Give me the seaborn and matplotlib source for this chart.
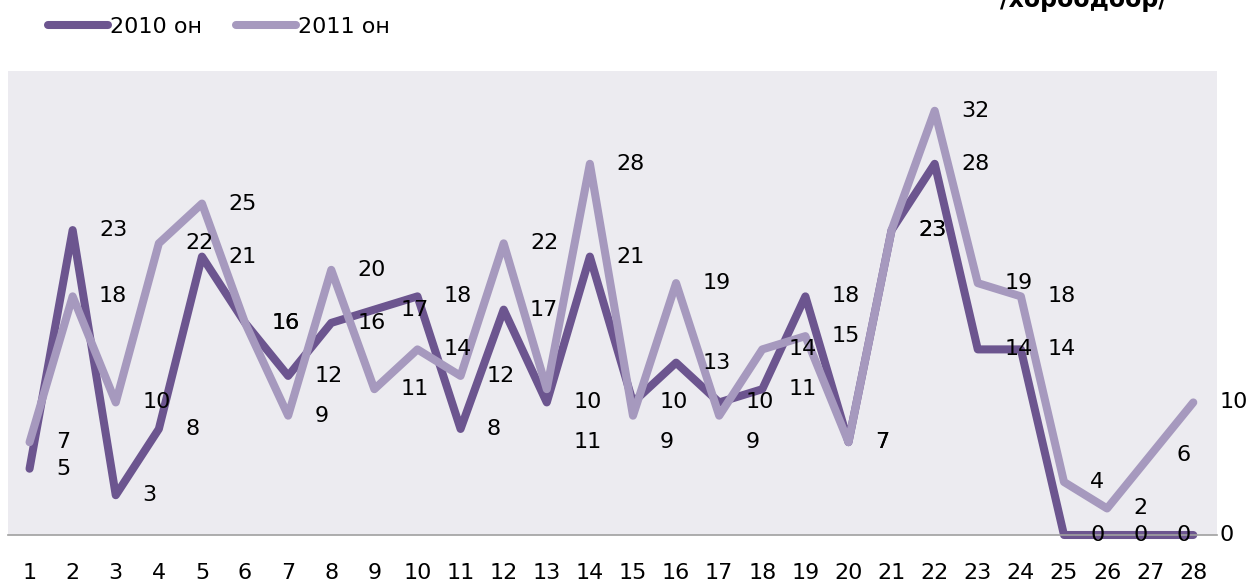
import matplotlib
matplotlib.use("Agg")
import matplotlib.pyplot as plt
import pandas as pd
import seaborn as sns

# day numbers on the x axis and counts per year
days = list(range(1, 29))
counts_2010 = [5, 23, 3, 8, 21, 16, 12, 16, 17, 18, 8, 17, 10, 21,
               10, 13, 10, 11, 18, 7, 23, 28, 14, 14, 0, 0, 0, 0]
counts_2011 = [7, 18, 10, 22, 25, 16, 9, 20, 11, 14, 12, 22, 11, 28,
               9, 19, 9, 14, 15, 7, 23, 32, 19, 18, 4, 2, 6, 10]
series_names = ["2010 он", "2011 он"]
title_text = "/хороодоор/"

COLOR_2010 = "#6c558f"
COLOR_2011 = "#a699be"

sns.set_style("white")
plt.rcParams["font.family"] = ["DejaVu Sans"]
plt.rcParams["text.color"] = "black"
plt.rcParams["xtick.color"] = "black"

df = pd.DataFrame({"day": days, "y2010": counts_2010, "y2011": counts_2011})

fig = plt.figure(figsize=(12.51, 5.83), dpi=100)
ax = fig.add_axes([8 / 1251, 48 / 583, 1209 / 1251, 464 / 583])
ax.set_facecolor("#ecebf0")

line_kw = dict(linewidth=5.8, solid_capstyle="round", solid_joinstyle="round",
               clip_on=False, sort=False)
sns.lineplot(data=df, x="day", y="y2010", color=COLOR_2010,
             label=series_names[0], ax=ax, **line_kw)
sns.lineplot(data=df, x="day", y="y2011", color=COLOR_2011,
             label=series_names[1], ax=ax, **line_kw)

ax.set_xlim(0.5, 28.55)
ax.set_ylim(0, 35)
ax.set_xticks(days)
ax.set_xticklabels([str(d) for d in days], fontsize=16, color="black")
ax.set_yticks([])
ax.set_xlabel("")
ax.set_ylabel("")
ax.tick_params(axis="x", length=0, pad=20)
for side in ["top", "left", "right"]:
    ax.spines[side].set_visible(False)
ax.spines["bottom"].set_color("#a0a0a0")
ax.spines["bottom"].set_linewidth(1.2)

# data labels to the right of each point
for d, a, b in zip(days, counts_2010, counts_2011):
    ax.annotate(str(a), (d, a), xytext=(19, 0), textcoords="offset points",
                ha="left", va="center", fontsize=16, color="black",
                annotation_clip=False)
    yb = b
    if 0 < abs(a - b) < 2:
        yb = a - 3  # keep close labels apart
    ax.annotate(str(b), (d, yb), xytext=(19, 0), textcoords="offset points",
                ha="left", va="center", fontsize=16, color="black",
                annotation_clip=False)

leg = ax.legend(loc="center left", bbox_to_anchor=(48 / 1251, 1 - 27 / 583),
                bbox_transform=fig.transFigure, ncol=2, frameon=False,
                fontsize=16, handlelength=2.7, handletextpad=0.1,
                columnspacing=1.5, borderpad=0, borderaxespad=0)
for t in leg.get_texts():
    t.set_color("black")

# the heading sits mostly above the top edge, as in the source image
fig.text(1083 / 1251, 1 - 7 / 583, title_text, ha="center", va="baseline",
         fontsize=17, fontweight="bold", color="black")

fig.savefig("out.png", dpi=100)
plt.close(fig)
